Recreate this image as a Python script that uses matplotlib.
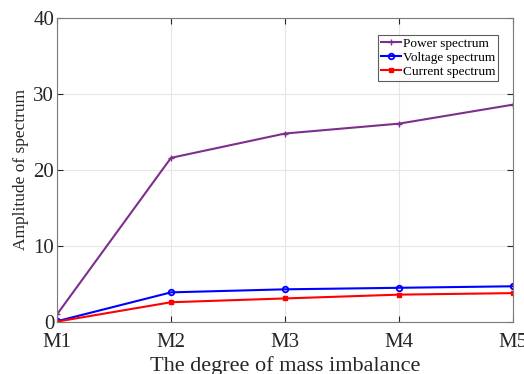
import matplotlib
matplotlib.use("Agg")
import matplotlib.pyplot as plt

categories = ["M1", "M2", "M3", "M4", "M5"]
power = [1.0, 21.6, 24.8, 26.1, 28.6]
voltage = [0.1, 3.9, 4.3, 4.5, 4.7]
current = [0.05, 2.6, 3.1, 3.6, 3.8]

plt.rcParams['font.family'] = ['Liberation Serif', 'DejaVu Serif']

fig = plt.figure(figsize=(5.24, 3.74), dpi=100)
ax = fig.add_axes([57/524, 1 - 322/374, (513-57)/524, (322-18)/374])

x = range(len(categories))
ax.plot(x, power, color='#7e2f8e', marker='+', markersize=5, lw=1.5, label='Power spectrum')
ax.plot(x, voltage, color='blue', marker='o', markersize=4, markerfacecolor='none', mew=1.3, lw=1.5, label='Voltage spectrum')
ax.plot(x, current, color='red', marker='s', markersize=3.5, lw=1.5, label='Current spectrum')

ax.set_xlim(0, 4)
ax.set_ylim(0, 40)
ax.set_xticks(list(x))
ax.set_xticklabels(categories)
ax.set_yticks([0, 10, 20, 30, 40])
ax.grid(True, color='#e6e6e6', lw=0.8)
ax.set_axisbelow(True)
for s in ax.spines.values():
    s.set_color('#7a7a7a')
ax.tick_params(direction='in', colors='#262626', labelsize=15, length=4, top=True, right=True, pad=2)
ax.tick_params(axis='x', pad=8)

ax.set_xlabel('The degree of mass imbalance', fontsize=16, color='#262626', labelpad=3)
ax.set_ylabel('Amplitude of spectrum', fontsize=12.5, color='#262626', labelpad=3)

leg = ax.legend(loc='upper right', fontsize=9.5, frameon=True, fancybox=False,
                edgecolor='#333333', handlelength=1.5, borderpad=0.2, labelspacing=0.15,
                handletextpad=0.15, borderaxespad=0, bbox_to_anchor=(0.967, 0.945))
leg.get_frame().set_linewidth(0.8)

fig.savefig('out.png', dpi=100)
